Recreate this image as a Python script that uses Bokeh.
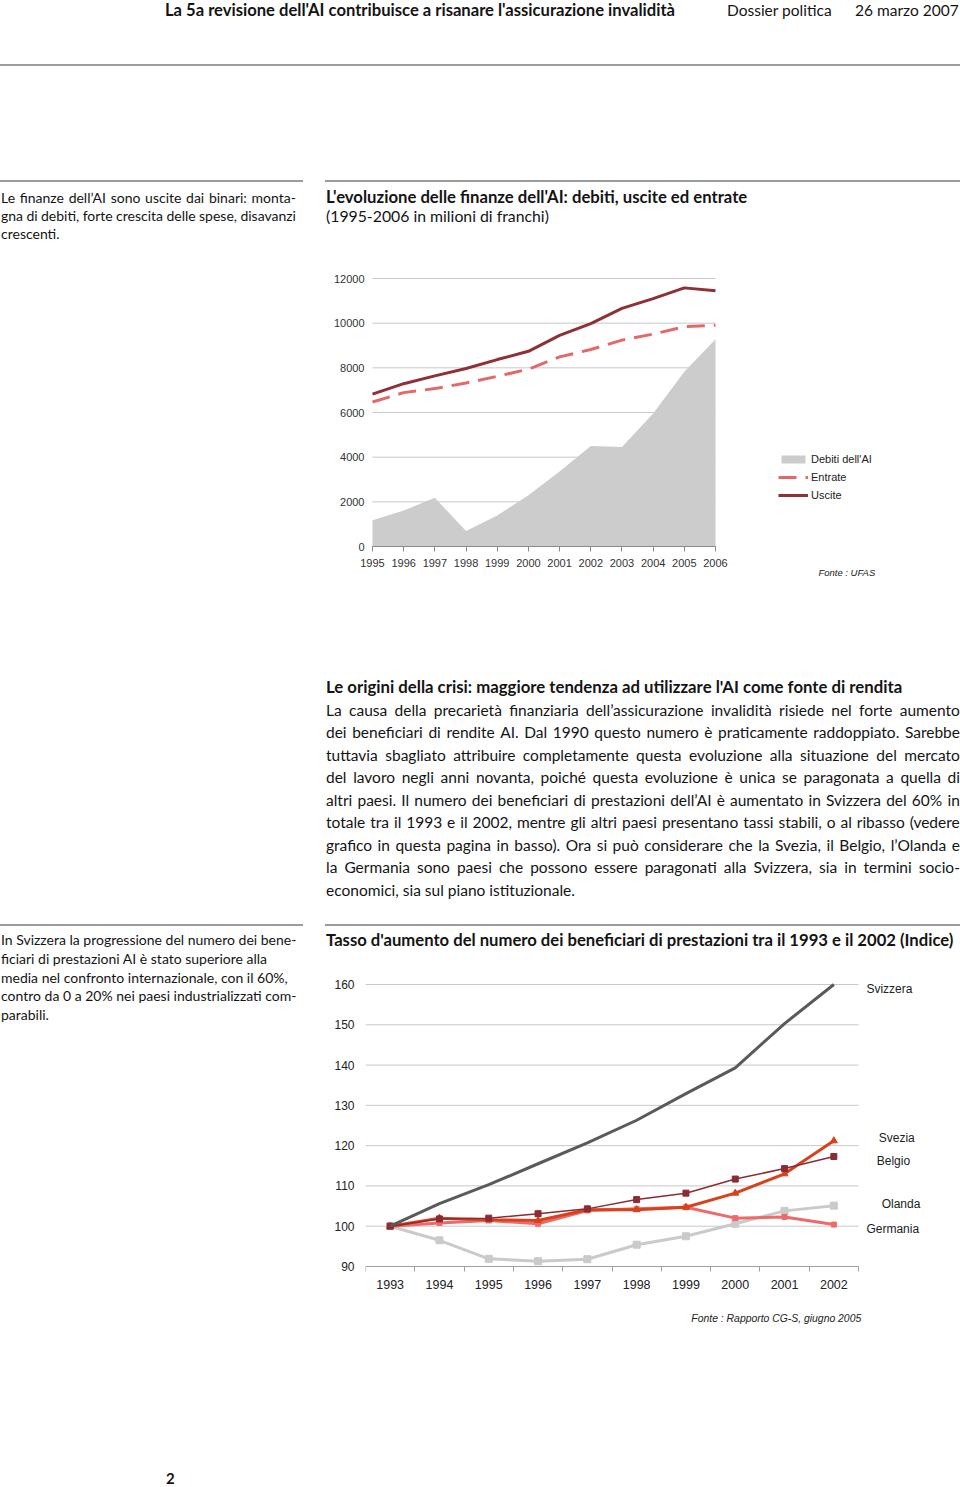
from bokeh.plotting import figure
from bokeh.models import Div, Legend, LegendItem, Label, FixedTicker, Range1d
from bokeh.layouts import column, row
from bokeh.embed import file_html
from bokeh.resources import INLINE

# ---------------- data: chart 1 (milioni di franchi) ----------------
years1 = [1995, 1996, 1997, 1998, 1999, 2000, 2001, 2002, 2003, 2004, 2005, 2006]
debiti = [1170, 1610, 2180, 690, 1390, 2290, 3360, 4500, 4450, 5950, 7820, 9280]
entrate = [6470, 6890, 7070, 7320, 7620, 7940, 8490, 8820, 9240, 9510, 9840, 9910]
uscite = [6820, 7290, 7640, 7970, 8370, 8740, 9450, 9980, 10660, 11100, 11580, 11450]
y_ticks1 = [0, 2000, 4000, 6000, 8000, 10000, 12000]

# ---------------- data: chart 2 (indice 1993 = 100) ----------------
years2 = [1993, 1994, 1995, 1996, 1997, 1998, 1999, 2000, 2001, 2002]
svizzera = [100, 105.6, 110.3, 115.5, 120.7, 126.3, 132.9, 139.3, 150.3, 160.0]
svezia = [100, 102.0, 101.6, 101.4, 104.1, 104.1, 104.7, 108.2, 113.0, 121.2]
belgio = [100, 101.8, 102.0, 103.1, 104.3, 106.6, 108.2, 111.7, 114.3, 117.3]
olanda = [100, 96.5, 91.9, 91.3, 91.8, 95.4, 97.5, 100.6, 103.8, 105.1]
germania = [100, 100.8, 101.4, 100.6, 103.9, 104.3, 104.7, 102.0, 102.3, 100.4]
y_ticks2 = [90, 100, 110, 120, 130, 140, 150, 160]

TXT = "Lato, 'Open Sans', sans-serif"
CH = "Liberation Sans"


def tline(text, left, top, size, lh, weight="normal", width=None, justify=False, extra=""):
    base = (f"position:absolute;left:{left}px;top:{top}px;white-space:nowrap;"
            f"font-size:{size}px;line-height:{lh}px;font-weight:{weight};{extra}")
    if justify:
        spans = "".join(f"<span>{w}</span>" for w in text.split(" "))
        return (f'<div style="{base}width:{width}px;display:flex;'
                f'justify-content:space-between;">{spans}</div>')
    return f'<div style="{base}">{text}</div>'


def rule(left, top, width, color="#9c9c9c"):
    return (f'<div style="position:absolute;left:{left}px;top:{top}px;width:{width}px;'
            f'height:2px;background:{color};"></div>')


def box(w, h, inner):
    return (f'<div style="position:relative;width:{w}px;height:{h}px;overflow:visible;'
            f'font-family:{TXT};color:#141414;">{inner}</div>')


# ---------------- Div A : header, side note 1, chart 1 title ----------------
a = ""
a += tline("La 5a revisione dell'AI contribuisce a risanare l'assicurazione invalidità", 165, 0, 16.6, 20, "bold")
a += tline("Dossier politica", 727, 0, 15.5, 20)
a += tline("26 marzo 2007", 855, 0, 15.5, 20)
a += rule(0, 64, 960)
a += rule(0, 180, 303)
a += rule(325, 180, 635)
side1 = ["Le finanze dell’AI sono uscite dai binari: monta-",
         "gna di debiti, forte crescita delle spese, disavanzi",
         "crescenti."]
for i, s in enumerate(side1):
    a += tline(s, 1, 189 + 18 * i, 14, 18, justify=(i < 2), width=295)
a += tline("L'evoluzione delle finanze dell'AI: debiti, uscite ed entrate", 326, 187, 16.7, 20, "bold")
a += tline("(1995-2006 in milioni di franchi)", 326, 206, 15.8, 20)
divA = Div(text=box(960, 255, a), width=960, height=255, margin=0)

# ---------------- Figure 1 ----------------
px_year1 = 343 / 11          # horizontal scale of the plotting area
px_unit1 = 268 / 12000       # vertical scale
p1 = figure(width=960, height=365,
            x_range=Range1d(1995 - (372 - 320) / px_year1, 2006 + (960 - 715) / px_year1),
            y_range=Range1d(-44 / px_unit1, 12000 + 16 / px_unit1),
            output_backend="svg", toolbar_location=None,
            min_border_left=320, min_border_right=0, min_border_top=7, min_border_bottom=30,
            outline_line_color=None, background_fill_color=None, border_fill_color=None)
p1.xgrid.grid_line_color = None
p1.ygrid.grid_line_color = None
gy1 = y_ticks1[1:]
p1.segment(x0=[years1[0]] * len(gy1), x1=[years1[-1]] * len(gy1), y0=gy1, y1=gy1,
           line_color="#c8c8c8", line_width=1)
r_deb = p1.varea(x=years1, y1=[0] * len(years1), y2=debiti, fill_color="#cccccc")
r_ent = p1.line(years1, entrate, line_color="#e56868", line_width=3, line_dash="18 9")
r_usc = p1.line(years1, uscite, line_color="#8e3035", line_width=3)

p1.xaxis.fixed_location = 0
p1.xaxis.bounds = (years1[0], years1[-1])
p1.xaxis.ticker = FixedTicker(ticks=years1)
p1.xaxis.axis_line_color = "#8a8a8a"
p1.xaxis.major_tick_line_color = "#8a8a8a"
p1.xaxis.major_tick_out = 5
p1.xaxis.major_tick_in = 0
p1.xaxis.minor_tick_line_color = None
p1.xaxis.major_label_standoff = 7
p1.yaxis.fixed_location = years1[0]
p1.yaxis.ticker = FixedTicker(ticks=y_ticks1)
p1.yaxis.axis_line_color = None
p1.yaxis.major_tick_line_color = None
p1.yaxis.minor_tick_line_color = None
p1.yaxis.major_tick_out = 0
p1.yaxis.major_label_standoff = 8
for ax in (p1.xaxis[0], p1.yaxis[0]):
    ax.major_label_text_font = CH
    ax.major_label_text_font_size = "11px"
    ax.major_label_text_color = "#333333"

leg1 = Legend(items=[LegendItem(label="Debiti dell'AI", renderers=[r_deb]),
                     LegendItem(label="Entrate", renderers=[r_ent]),
                     LegendItem(label="Uscite", renderers=[r_usc])],
              location=(458, 89), padding=0, margin=0, border_line_color=None,
              background_fill_alpha=0, glyph_width=30, glyph_height=10, label_height=10,
              spacing=6, label_standoff=3, label_text_font=CH, label_text_font_size="11px",
              label_text_color="#222222")
p1.add_layout(leg1)
p1.add_layout(Label(x=2009.3, y=-1164, text="Fonte : UFAS", text_font=CH, text_font_size="9.5px",
                    text_font_style="italic", text_baseline="middle", text_color="#222222"))

# ---------------- Div B : paragraph ----------------
b = ""
b += tline("Le origini della crisi: maggiore tendenza ad utilizzare l'AI come fonte di rendita",
           326, 56, 16.75, 22, "bold")
para = ["La causa della precarietà finanziaria dell’assicurazione invalidità risiede nel forte aumento",
        "dei beneficiari di rendite AI. Dal 1990 questo numero è praticamente raddoppiato. Sarebbe",
        "tuttavia sbagliato attribuire completamente questa evoluzione alla situazione del mercato",
        "del lavoro negli anni novanta, poiché questa evoluzione è unica se paragonata a quella di",
        "altri paesi. Il numero dei beneficiari di prestazioni dell’AI è aumentato in Svizzera del 60% in",
        "totale tra il 1993 e il 2002, mentre gli altri paesi presentano tassi stabili, o al ribasso (vedere",
        "grafico in questa pagina in basso). Ora si può considerare che la Svezia, il Belgio, l’Olanda e",
        "la Germania sono paesi che possono essere paragonati alla Svizzera, sia in termini socio-",
        "economici, sia sul piano istituzionale."]
for i, s in enumerate(para):
    b += tline(s, 326, round(56 + 22.55 * (i + 1), 1), 15.5, 22, justify=(i < len(para) - 1), width=634)
divB = Div(text=box(960, 300, b), width=960, height=300, margin=0)

# ---------------- Row C : side note 2 + chart 2 ----------------
c = rule(0, 4, 303)
side2 = ["In Svizzera la progressione del numero dei bene-",
         "ficiari di prestazioni AI è stato superiore alla",
         "media nel confronto internazionale, con il 60%,",
         "contro da 0 a 20% nei paesi industrializzati com-",
         "parabili."]
for i, s in enumerate(side2):
    c += tline(s, 1, round(11 + 18.75 * i, 1), 14, 18)
divC = Div(text=box(320, 436, c), width=320, height=436, margin=0)

t = rule(5, 4, 635)
t += tline("Tasso d'aumento del numero dei beneficiari di prestazioni tra il 1993 e il 2002 (Indice)",
           6, 10, 16.65, 20, "bold")
divT = Div(text=box(640, 50, t), width=640, height=50, margin=0)

px_year2 = 49.3
px_unit2 = 4.028
p2 = figure(width=640, height=386,
            x_range=Range1d(years2[0] - 0.5, years2[-1] + 0.5 + 102 / px_year2),
            y_range=Range1d(160 - 342 / px_unit2, 160.5),
            output_backend="svg", toolbar_location=None,
            min_border_left=45, min_border_right=0, min_border_top=12, min_border_bottom=30,
            outline_line_color=None, background_fill_color=None, border_fill_color=None)
p2.xgrid.grid_line_color = None
p2.ygrid.grid_line_color = None
gy2 = y_ticks2[1:]
p2.segment(x0=[years2[0] - 0.5] * len(gy2), x1=[years2[-1] + 0.5] * len(gy2), y0=gy2, y1=gy2,
           line_color="#c8c8c8", line_width=1)
p2.line(years2, olanda, line_color="#cacaca", line_width=3)
p2.scatter(years2, olanda, marker="square", size=7, color="#cacaca")
p2.line(years2, germania, line_color="#ee6a6a", line_width=3)
p2.scatter(years2, germania, marker="square", size=5, color="#ee6a6a")
p2.line(years2, svezia, line_color="#d8421b", line_width=3)
p2.scatter(years2, svezia, marker="triangle", size=7, color="#d8421b")
p2.line(years2, belgio, line_color="#8c2b33", line_width=1.5)
p2.scatter(years2, belgio, marker="square", size=6, color="#8c2b33")
p2.line(years2, svizzera, line_color="#5a5a5a", line_width=3)

p2.xaxis.fixed_location = y_ticks2[0]
p2.xaxis.bounds = (years2[0] - 0.5, years2[-1] + 0.5)
p2.xaxis.ticker = FixedTicker(ticks=years2, minor_ticks=[y - 0.5 for y in years2] + [years2[-1] + 0.5])
p2.xaxis.axis_line_color = "#a0a0a0"
p2.xaxis.major_tick_line_color = None
p2.xaxis.major_tick_out = 5
p2.xaxis.minor_tick_line_color = "#a0a0a0"
p2.xaxis.minor_tick_out = 5
p2.xaxis.minor_tick_in = 0
p2.xaxis.major_label_standoff = 9
p2.yaxis.ticker = FixedTicker(ticks=y_ticks2)
p2.yaxis.axis_line_color = None
p2.yaxis.major_tick_line_color = None
p2.yaxis.minor_tick_line_color = None
p2.yaxis.major_tick_out = 0
p2.yaxis.major_label_standoff = 11
p2.xaxis.major_label_text_font_size = "12.5px"
p2.yaxis.major_label_text_font_size = "12px"
for ax in (p2.xaxis[0], p2.yaxis[0]):
    ax.major_label_text_font = CH
    ax.major_label_text_color = "#222222"

for name, x, y in [("Svizzera", 2002.66, 158.8), ("Svezia", 2002.91, 122.0), ("Belgio", 2002.87, 116.3),
                   ("Olanda", 2002.97, 105.6), ("Germania", 2002.66, 99.2)]:
    p2.add_layout(Label(x=x, y=y, text=name, text_font=CH, text_font_size="12px",
                        text_baseline="middle", text_color="#222222"))
p2.add_layout(Label(x=1999.11, y=77.1, text="Fonte : Rapporto CG-S, giugno 2005", text_font=CH,
                    text_font_size="10.4px", text_font_style="italic", text_baseline="middle",
                    text_color="#222222"))

rowC = row(divC, column(divT, p2, spacing=0, margin=0), spacing=0, margin=0)

# ---------------- Div D : page number ----------------
d = tline("2", 166, 114, 15, 16, "bold")
divD = Div(text=box(960, 131, d), width=960, height=131, margin=0)

page = column(divA, p1, divB, rowC, divD, spacing=0, margin=0)

open("out.html", "w").write(file_html(page, INLINE))
